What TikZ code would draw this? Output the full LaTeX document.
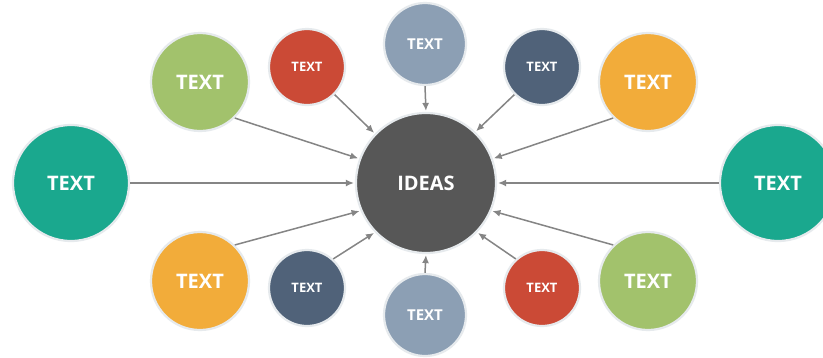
\documentclass[tikz,border=0pt]{standalone}
\usepackage{fontspec}
\setmainfont{Open Sans}
\usetikzlibrary{arrows.meta}
\definecolor{cteal}{HTML}{1AA88E}
\definecolor{cgreen}{HTML}{A2C26C}
\definecolor{cred}{HTML}{CB4A36}
\definecolor{cgraybl}{HTML}{8C9FB4}
\definecolor{cdarkbl}{HTML}{506279}
\definecolor{corange}{HTML}{F2AC3A}
\definecolor{ccenter}{HTML}{575757}
\definecolor{carrow}{HTML}{858585}
\definecolor{cring}{HTML}{E6EAED}
\tikzset{
  bubble/.style={circle, inner sep=0pt, draw=cring, line width=2.2pt, text=white, font=\bfseries},
  big/.style={bubble, minimum size=116pt, font=\bfseries\fontsize{20}{24}\selectfont},
  mid/.style={bubble, minimum size=98pt, font=\bfseries\fontsize{20}{24}\selectfont},
  sml/.style={bubble, minimum size=76pt, font=\bfseries\fontsize{13}{16}\selectfont},
  gry/.style={bubble, minimum size=82pt, font=\bfseries\fontsize{15}{18}\selectfont},
  conn/.style={draw=carrow, line width=1.5pt, -{Latex[length=8pt,width=7pt]}, shorten >=1pt}
}
\begin{document}
\begin{tikzpicture}[x=1pt,y=-1pt]
\path[use as bounding box, fill=white] (0,0) rectangle (823,357);
\clip (0,0) rectangle (823,357);
\node[bubble, minimum size=140pt, fill=ccenter, font=\bfseries\fontsize{20}{24}\selectfont] (ideas) at (426,183) {IDEAS};
\node[big, fill=cteal] (tl) at (71,183) {TEXT};
\node[big, fill=cteal] (tr) at (778,183) {TEXT};
\node[mid, fill=cgreen] (g1) at (200,82) {TEXT};
\node[mid, fill=corange] (o1) at (648,82) {TEXT};
\node[mid, fill=corange] (o2) at (200,281) {TEXT};
\node[mid, fill=cgreen] (g2) at (648,281) {TEXT};
\node[sml, fill=cred] (r1) at (307,67) {TEXT};
\node[sml, fill=cdarkbl] (b1) at (542,67) {TEXT};
\node[sml, fill=cdarkbl] (b2) at (307,288) {TEXT};
\node[sml, fill=cred] (r2) at (542,288) {TEXT};
\node[gry, fill=cgraybl] (s1) at (425,44) {TEXT};
\node[gry, fill=cgraybl] (s2) at (425,315) {TEXT};
\draw[conn] (tl.east) -- (ideas.180);
\draw[conn] (g1.-46) -- (ideas.160);
\draw[conn] (r1.-45) -- (ideas.136);
\draw[conn] (s1.south) -- (ideas.north);
\draw[conn] (b1.-135) -- (ideas.46);
\draw[conn] (o1.-134) -- (ideas.20);
\draw[conn] (tr.west) -- (ideas.0);
\draw[conn] (o2.46) -- (ideas.-157);
\draw[conn] (b2.48) -- (ideas.-136);
\draw[conn] (s2.north) -- (ideas.south);
\draw[conn] (r2.132) -- (ideas.-44);
\draw[conn] (g2.134) -- (ideas.-23);
\end{tikzpicture}
\end{document}
